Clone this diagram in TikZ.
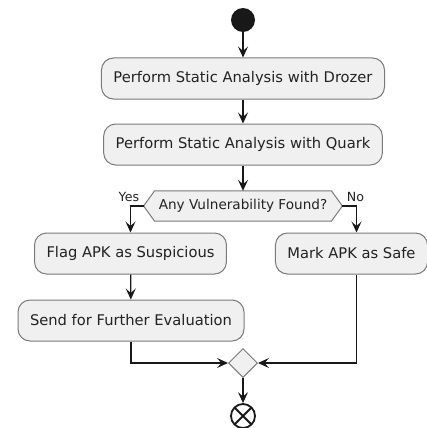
\documentclass[tikz,border=0pt]{standalone}
\usepackage{fontspec}
\setmainfont{DejaVu Sans}
\usetikzlibrary{arrows.meta, positioning, calc, shapes.geometric}
\definecolor{actfill}{HTML}{F0F0F0}
\definecolor{actborder}{HTML}{7A7A7A}
\definecolor{linecol}{HTML}{181818}
\definecolor{textcol}{HTML}{222222}

\begin{document}
\begin{tikzpicture}[
        x=1pt, y=1pt,
        >={Stealth[length=11pt, width=10pt, inset=4.5pt]},
        action/.style={rectangle, rounded corners=12pt, draw=actborder, line width=1pt, fill=actfill, text=textcol, minimum height=41pt, inner xsep=12pt, font=\fontsize{14.7}{18}\selectfont},
        decision/.style={rectangle, inner xsep=4pt, text=textcol, minimum height=30pt, font=\fontsize{13.6}{16}\selectfont},
        merge/.style={diamond, draw=actborder, line width=1pt, fill=actfill, minimum width=29pt, minimum height=29pt, inner sep=0pt},
        arrow/.style={->, line width=1.2pt, color=linecol},
        guard/.style={text=textcol, font=\fontsize{12.6}{14}\selectfont}
    ]
    \fill[white] (0,0) rectangle (427,-428);
    \useasboundingbox (0,0) rectangle (427,-428);

    %% --- start ---
    \node[circle, fill=linecol, minimum size=24pt, inner sep=0pt] (start) at (243, -20) {};

    %% --- static analysis ---
    \node[action] (drozer) at (243, -78.5)  {Perform Static Analysis with Drozer};
    \node[action] (quark)  at (243, -144.5) {Perform Static Analysis with Quark};

    %% --- decision (hexagon drawn round the node) ---
    \node[decision] (vuln) at (243, -206) {Any Vulnerability Found?};
    \coordinate (vulnL) at ($(vuln.west)+(-11,0)$);
    \coordinate (vulnR) at ($(vuln.east)+(11,0)$);
    \draw[draw=actborder, line width=1pt, fill=actfill]
        (vuln.north west) -- (vuln.north east) -- (vulnR) -- (vuln.south east)
        -- (vuln.south west) -- (vulnL) -- cycle;
    \node[decision] at (vuln) {Any Vulnerability Found?};

    %% --- branches ---
    \node[action] (flag)  at (130.5, -253.5) {Flag APK as Suspicious};
    \node[action] (safe)  at (351.5, -253.5) {Mark APK as Safe};
    \node[action] (send)  at (131, -320.5)   {Send for Further Evaluation};
    \coordinate (safeIn)  at ($(safe.north)+(5,0)$);
    \coordinate (safeOut) at ($(safe.south)+(5,0)$);

    %% --- merge + end ---
    \node[merge] (join) at (243, -363) {};
    \node[circle, draw=linecol, line width=1.8pt, fill=white, minimum size=24pt, inner sep=0pt] (stop) at (243, -416) {};
    \draw[linecol, line width=1.8pt] ($(stop)+(-8.5,-8.5)$) -- ($(stop)+(8.5,8.5)$);
    \draw[linecol, line width=1.8pt] ($(stop)+(-8.5,8.5)$) -- ($(stop)+(8.5,-8.5)$);

    %% --- flow ---
    \draw[arrow] (start) -- (drozer);
    \draw[arrow] (drozer) -- (quark);
    \draw[arrow] (quark) -- (vuln.north -| quark);
    \draw[arrow] (vulnL) -| (flag.north);
    \draw[arrow] (vulnR) -| (safeIn);
    \node[guard, anchor=south east] at ($(vulnL)+(-1,1)$) {Yes};
    \node[guard, anchor=south west] at ($(vulnR)+(1,1)$) {No};
    \draw[arrow] (flag) -- (send);
    \draw[arrow] (send.south) |- (join.west);
    \draw[arrow] (safeOut) |- (join.east);
    \draw[arrow] (join) -- (stop);

\end{tikzpicture}
\end{document}
